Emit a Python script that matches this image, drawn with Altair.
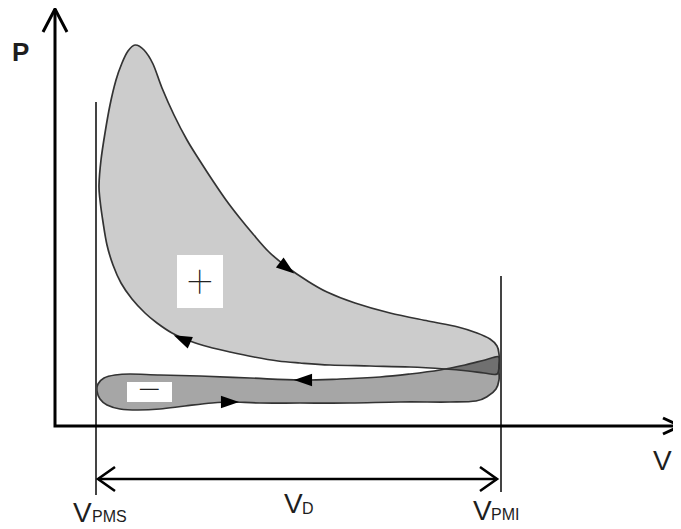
import altair as alt
import pandas as pd

# ---------------- data (pixel-like units, y grows downward) ----------------
# Upper (positive work) loop outline, clockwise starting at the pressure peak
UP_X = [135, 144, 153, 162, 174, 187, 200, 213, 226, 239, 253, 269, 287, 306, 327, 355, 390, 428, 458, 477, 490, 497, 499,
        499, 497, 484, 468, 445, 410, 370, 330, 300, 278, 254, 230, 209, 190, 172, 157, 145, 132, 121, 113, 107, 103, 100,
        99, 101, 105, 110, 116, 122, 128]
UP_Y = [45, 50, 64, 88, 115, 140, 161, 181, 200, 217, 234, 252, 267, 280, 292, 303, 313, 321, 327, 333, 339, 346, 354,
        364, 374, 373, 371, 369, 367, 366, 365, 363, 361, 357, 352, 347, 341, 333, 323, 313, 299, 283, 265, 245, 222, 200,
        185, 160, 133, 105, 80, 63, 51]

# Lower (pumping) loop outline: exhaust line left->right, then intake line right->left
LO_X = [98, 104, 115, 130, 160, 200, 250, 300, 340, 380, 410, 440, 465, 485, 499,
        499, 499, 496, 488, 476, 450, 400, 350, 300, 260, 232, 212, 185, 160, 138, 120, 107, 100, 97]
LO_Y = [384, 378, 375, 374, 375, 376, 378, 380, 379, 377, 374, 370, 365, 360, 357,
        370, 380, 389, 396, 401, 402, 402, 403, 403, 403, 402, 403, 406, 409, 410, 409, 405, 399, 391]

# Overlap of both loops (dark region near V_PMI)
OV_X = [445, 465, 485, 499, 499, 484, 468]
OV_Y = [369, 365, 360, 357, 375, 373, 371]

# Axes (polyline + arrow heads)
AXIS_X = [55, 55, 680]
AXIS_Y = [9, 426, 426]
HEAD_P_X = [43, 55, 67]
HEAD_P_Y = [32, 9, 32]
HEAD_V_X = [663, 680, 663]
HEAD_V_Y = [418, 426, 434]

# Dead-centre marker lines
PMS_X = [96, 96]
PMS_Y = [102, 495]
PMI_X = [501, 501]
PMI_Y = [276, 492]

# Displacement double arrow
VD_X = [98, 497]
VD_Y = [479, 479]
VD_L_X = [115, 98, 115]
VD_L_Y = [467, 479, 491]
VD_R_X = [480, 497, 480]
VD_R_Y = [467, 479, 491]

# Direction arrows on the cycle
ARR_X = [287, 182, 303, 230]
ARR_Y = [268, 339, 380, 402]
ARR_ANGLE = [37, 204, 180, 0]

# Sign boxes
BOX_X = [177, 127]
BOX_X2 = [223, 172]
BOX_Y = [255, 382]
BOX_Y2 = [308, 402]
SIGN_T = ["+", "\u2212"]
SIGN_X = [200, 149]
SIGN_Y = [283, 392]

# Labels
BIG_T = ["V", "V", "V", "V"]
BIG_X = [653, 73, 284, 473]
BIG_Y = [470, 522, 513, 520]
SUB_T = ["PMS", "D", "PMI"]
SUB_X = [92, 302, 491]
SUB_Y = [522, 514, 520]
P_T = ["P"]
P_X = [12]
P_Y = [61]

# ---------------- chart ----------------
W, H = 665, 521
XS = alt.Scale(domain=[8, 8 + W], nice=False, zero=False)
YS = alt.Scale(domain=[8, 8 + H], nice=False, zero=False, reverse=True)


def XY():
    return dict(x=alt.X("x:Q", scale=XS, axis=None), y=alt.Y("y:Q", scale=YS, axis=None))


def poly(xs, ys):
    return pd.DataFrame({"x": xs, "y": ys, "i": list(range(len(xs)))})


def polylines(lines):
    rows = []
    for g, (xs, ys) in enumerate(lines):
        for i, (x, y) in enumerate(zip(xs, ys)):
            rows.append({"g": g, "i": i, "x": x, "y": y})
    return pd.DataFrame(rows)


def filled(xs, ys, color, interp):
    return alt.Chart(poly(xs, ys)).mark_line(
        interpolate=interp, fill=color, strokeOpacity=0
    ).encode(**XY(), order=alt.Order("i:Q"))


def outline(xs, ys, interp):
    return alt.Chart(poly(xs, ys)).mark_line(
        interpolate=interp, stroke="#333333", strokeWidth=1.7
    ).encode(**XY(), order=alt.Order("i:Q"))


def lines_layer(lines, color, width):
    return alt.Chart(polylines(lines)).mark_line(
        stroke=color, strokeWidth=width, strokeJoin="miter"
    ).encode(**XY(), detail="g:N", order=alt.Order("i:Q"))


layers = []
layers.append(filled(UP_X, UP_Y, "#cccccc", "cardinal-closed"))
layers.append(filled(LO_X, LO_Y, "#a6a6a6", "cardinal-closed"))
layers.append(filled(OV_X, OV_Y, "#707070", "linear-closed"))
layers.append(outline(UP_X, UP_Y, "cardinal-closed"))
layers.append(outline(LO_X, LO_Y, "cardinal-closed"))

boxes = pd.DataFrame({"x": BOX_X, "x2": BOX_X2, "y": BOX_Y, "y2": BOX_Y2})
layers.append(alt.Chart(boxes).mark_rect(fill="white").encode(**XY(), x2="x2:Q", y2="y2:Q"))

signs = pd.DataFrame({"x": SIGN_X, "y": SIGN_Y, "t": SIGN_T})
layers.append(alt.Chart(signs).mark_text(
    align="center", baseline="middle", font="Roboto", fontWeight=100, fontSize=46, color="#222222"
).encode(**XY(), text="t:N"))

arrows = pd.DataFrame({"x": ARR_X, "y": ARR_Y, "a": ARR_ANGLE})
layers.append(alt.Chart(arrows).mark_point(
    shape="M1,0L-1,0.7L-1,-0.7Z", filled=True, color="black", opacity=1, size=330
).encode(**XY(), angle=alt.Angle("a:Q", scale=None)))

layers.append(lines_layer([(PMS_X, PMS_Y), (PMI_X, PMI_Y)], "#444444", 2))
layers.append(lines_layer([(AXIS_X, AXIS_Y), (HEAD_P_X, HEAD_P_Y), (HEAD_V_X, HEAD_V_Y)], "black", 3))
layers.append(lines_layer([(VD_X, VD_Y), (VD_L_X, VD_L_Y), (VD_R_X, VD_R_Y)], "black", 2.6))

big = pd.DataFrame({"x": BIG_X, "y": BIG_Y, "t": BIG_T})
layers.append(alt.Chart(big).mark_text(
    align="left", baseline="alphabetic", font="Liberation Sans Narrow, Liberation Sans", fontSize=28, color="#1e1e1e"
).encode(**XY(), text="t:N"))
sub = pd.DataFrame({"x": SUB_X, "y": SUB_Y, "t": SUB_T})
layers.append(alt.Chart(sub).mark_text(
    align="left", baseline="alphabetic", font="Liberation Sans Narrow, Liberation Sans", fontSize=16, color="#1e1e1e"
).encode(**XY(), text="t:N"))
ptxt = pd.DataFrame({"x": P_X, "y": P_Y, "t": P_T})
layers.append(alt.Chart(ptxt).mark_text(
    align="left", baseline="alphabetic", font="Liberation Sans", fontWeight="bold", fontSize=26, color="#1e1e1e"
).encode(**XY(), text="t:N"))

chart = alt.layer(*layers).properties(
    width=W, height=H, padding=0, autosize=alt.AutoSizeParams(type="none")
).configure_view(strokeWidth=0)

chart.save("out.html", embed_options={"renderer": "svg", "actions": False})
